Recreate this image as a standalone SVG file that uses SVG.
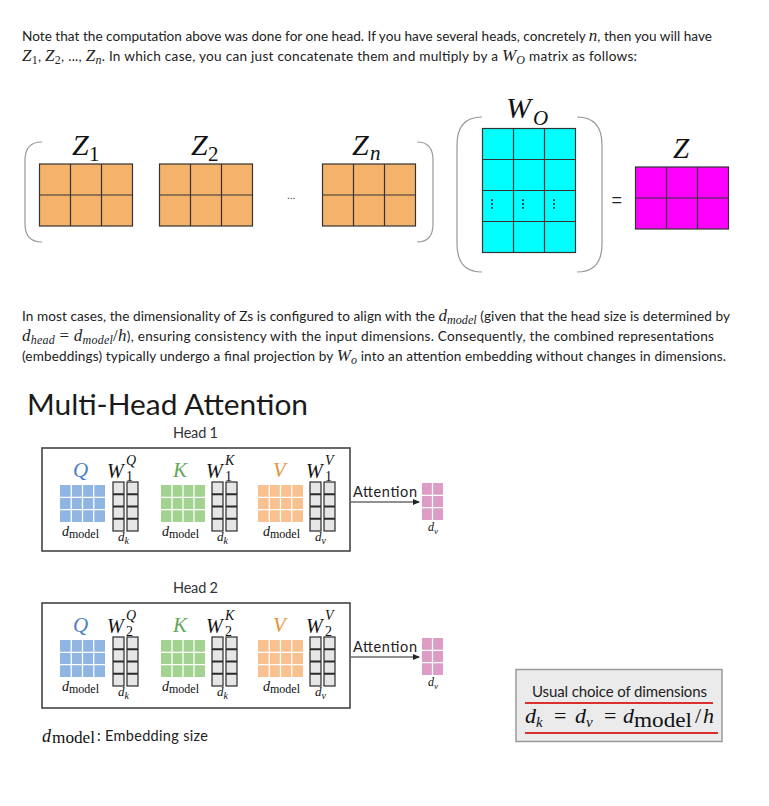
<svg xmlns="http://www.w3.org/2000/svg" width="769" height="806" viewBox="0 0 769 806">
<defs>
<style>
.t{font-family:Lato,"Noto Sans",sans-serif;font-size:13.6px;fill:#222}
.mi{font-family:"Liberation Serif",serif;font-style:italic;font-size:17px}
.mu{font-family:"Liberation Serif",serif;font-style:normal;font-size:17px}
.ms{font-family:"Liberation Serif",serif;font-style:italic;font-size:12px}
.rs{font-family:"Liberation Serif",serif;font-style:normal;font-size:12px}
.m{font-family:"Liberation Serif",serif;font-style:italic;fill:#111}
.r{font-family:"Liberation Serif",serif;fill:#111}
.zc{fill:#F5B26B;stroke:#333;stroke-width:1.2}
.gl{fill:none;stroke:#333;stroke-width:1.2}
.par{fill:none;stroke:#999;stroke-width:1.2}
.box{fill:#fff;stroke:#444;stroke-width:1.6}
.wc{fill:#e6e6e6;stroke:#2a2a2a;stroke-width:1.2}
.wd{fill:none;stroke:#2a2a2a;stroke-width:1.8}
.gap{fill:none;stroke:#fff;stroke-width:1.3}
.qb{fill:#8fb5e3}
.kg{fill:#a3d391}
.vo{fill:#f8c18f}
.pk{fill:#dc9cc6}
.arr{fill:none;stroke:#222;stroke-width:1.2;marker-end:url(#ah)}
</style>
<marker id="ah" markerWidth="6" markerHeight="6" refX="5" refY="3" orient="auto"><path d="M0,0.5 L6,3 L0,5.5z" fill="#222"/></marker>
</defs>
<rect width="769" height="806" fill="#fff"/>

<!-- paragraph 1 -->
<g id="para1">
<text class="t" x="22" y="40.7" textLength="690" lengthAdjust="spacing">Note that the computation above was done for one head. If you have several heads, concretely <tspan class="mi">n</tspan>, then you will have</text>
<text class="t" x="22" y="61" textLength="615" lengthAdjust="spacing"><tspan class="mi">Z</tspan><tspan class="rs" dy="3">1</tspan><tspan dy="-3">,  </tspan><tspan class="mi">Z</tspan><tspan class="rs" dy="3">2</tspan><tspan dy="-3">,  ...,  </tspan><tspan class="mi">Z</tspan><tspan class="ms" dy="3">n</tspan><tspan dy="-3">. In which case, you can just concatenate them and multiply by a </tspan><tspan class="mi">W</tspan><tspan class="ms" dy="3">O</tspan><tspan dy="-3"> matrix as follows:</tspan></text>
</g>

<!-- concatenation figure -->
<g id="paren-left"><path class="par" d="M42,142 Q25,142 25,160 L25,224 Q25,242 42,242"/></g>
<g id="paren-right"><path class="par" d="M417,142 Q433,142 433,160 L433,224 Q433,242 417,242"/></g>
<g id="Z1">
<rect class="zc" x="39.5" y="164" width="93" height="62"/>
<path class="gl" d="M70.5,164V226M101.5,164V226M39.5,195H132.5"/>
<text class="m" x="72" y="155" font-size="30">Z</text><text class="r" x="89" y="161" font-size="21">1</text>
</g>
<g id="Z2">
<rect class="zc" x="159.5" y="164" width="93" height="62"/>
<path class="gl" d="M190.5,164V226M221.5,164V226M159.5,195H252.5"/>
<text class="m" x="191" y="155" font-size="30">Z</text><text class="r" x="208" y="161" font-size="21">2</text>
</g>
<g id="dots"><text x="287" y="199" font-family="Liberation Sans,sans-serif" font-size="10" fill="#222">...</text></g>
<g id="Zn">
<rect class="zc" x="322.5" y="164" width="93" height="62"/>
<path class="gl" d="M353.5,164V226M384.5,164V226M322.5,195H415.5"/>
<text class="m" x="352" y="155" font-size="30">Z</text><text class="m" x="370" y="160" font-size="21">n</text>
</g>
<g id="WO-paren-left"><path class="par" d="M482,117 Q457,117 457,145 L457,244 Q457,272 482,272"/></g>
<g id="WO-paren-right"><path class="par" d="M577,117 Q602,117 602,145 L602,244 Q602,272 577,272"/></g>
<g id="WO">
<rect x="482.5" y="128.5" width="93" height="124" fill="#00ffff" stroke="#333" stroke-width="1.2"/>
<path class="gl" d="M513.5,128.5V252.5M544.5,128.5V252.5M482.5,159.5H575.5M482.5,190.5H575.5M482.5,221.5H575.5"/>
<g fill="#111"><circle cx="492" cy="200" r="0.9"/><circle cx="492" cy="204" r="0.9"/><circle cx="492" cy="208" r="0.9"/>
<circle cx="523" cy="200" r="0.9"/><circle cx="523" cy="204" r="0.9"/><circle cx="523" cy="208" r="0.9"/>
<circle cx="554" cy="200" r="0.9"/><circle cx="554" cy="204" r="0.9"/><circle cx="554" cy="208" r="0.9"/></g>
<text class="m" x="506" y="118" font-size="30">W</text><text class="m" x="533" y="125" font-size="21">O</text>
</g>
<g id="equals"><text x="611.5" y="206" font-family="Liberation Sans,sans-serif" font-size="18" fill="#222">=</text></g>
<g id="Z">
<rect x="635.5" y="167" width="93" height="62" fill="#ff00ff" stroke="#333" stroke-width="1.2"/>
<path class="gl" d="M666.5,167V229M697.5,167V229M635.5,198H728.5"/>
<text class="m" x="673" y="158" font-size="29">Z</text>
</g>

<!-- paragraph 2 -->
<g id="para2">
<text class="t" x="22" y="320.5" textLength="708" lengthAdjust="spacing">In most cases, the dimensionality of Zs is configured to align with the <tspan class="mi">d</tspan><tspan class="ms" dy="3">model</tspan><tspan dy="-3"> (given that the head size is determined by</tspan></text>
<text class="t" x="22" y="340.5" textLength="692" lengthAdjust="spacing"><tspan class="mi">d</tspan><tspan class="ms" dy="3">head</tspan><tspan class="mu" dy="-3"> = </tspan><tspan class="mi">d</tspan><tspan class="ms" dy="3">model</tspan><tspan class="mu" dy="-3">/</tspan><tspan class="mi">h</tspan><tspan>), ensuring consistency with the input dimensions. Consequently, the combined representations</tspan></text>
<text class="t" x="22" y="360.5" textLength="704" lengthAdjust="spacing">(embeddings) typically undergo a final projection by <tspan class="mi">W</tspan><tspan class="ms" dy="3">o</tspan><tspan dy="-3"> into an attention embedding without changes in dimensions.</tspan></text>
</g>

<g id="title"><text x="27" y="415" font-family="Lato,sans-serif" font-size="28" fill="#1a1a1a" textLength="281" lengthAdjust="spacingAndGlyphs">Multi-Head Attention</text></g>

<!-- Head 1 -->
<g id="head1">
<text x="173" y="438" font-family="Lato,sans-serif" font-size="14.5" fill="#333" textLength="45">Head 1</text>
<rect class="box" x="42" y="448" width="308" height="103"/>
<text class="m" x="73" y="477" font-size="21" style="fill:#4a80c4">Q</text>
<text class="m" x="107" y="478" font-size="20">W</text><text class="m" x="126" y="465" font-size="14">Q</text><text class="r" x="126" y="481" font-size="14">1</text>
<rect class="qb" x="60" y="485" width="45" height="37"/>
<path class="gap" d="M71.25,485V522M82.5,485V522M93.75,485V522M60,497.3H105M60,509.7H105"/>
<rect class="wc" x="113" y="482" width="11" height="49"/><rect class="wc" x="127" y="482" width="11" height="49"/>
<path class="wd" d="M113,494.25H124M113,506.5H124M113,518.75H124M127,494.25H138M127,506.5H138M127,518.75H138"/>
<text class="m" x="62" y="536" font-size="14">d</text><text class="r" x="69" y="537.5" font-size="12">model</text>
<text class="m" x="118" y="541" font-size="13">d</text><text class="m" x="124.5" y="544" font-size="10">k</text>

<text class="m" x="173" y="477" font-size="21" style="fill:#64a85a">K</text>
<text class="m" x="206" y="478" font-size="20">W</text><text class="m" x="225" y="465" font-size="14">K</text><text class="r" x="225" y="481" font-size="14">1</text>
<rect class="kg" x="161" y="485" width="44" height="37"/>
<path class="gap" d="M172,485V522M183,485V522M194,485V522M161,497.3H205M161,509.7H205"/>
<rect class="wc" x="212" y="482" width="11" height="49"/><rect class="wc" x="226" y="482" width="11" height="49"/>
<path class="wd" d="M212,494.25H223M212,506.5H223M212,518.75H223M226,494.25H237M226,506.5H237M226,518.75H237"/>
<text class="m" x="162" y="536" font-size="14">d</text><text class="r" x="169" y="537.5" font-size="12">model</text>
<text class="m" x="217" y="541" font-size="13">d</text><text class="m" x="223.5" y="544" font-size="10">k</text>

<text class="m" x="273" y="477" font-size="21" style="fill:#e6943a">V</text>
<text class="m" x="306" y="478" font-size="20">W</text><text class="m" x="325" y="465" font-size="14">V</text><text class="r" x="325" y="481" font-size="14">1</text>
<rect class="vo" x="258" y="485" width="45" height="37"/>
<path class="gap" d="M269.25,485V522M280.5,485V522M291.75,485V522M258,497.3H303M258,509.7H303"/>
<rect class="wc" x="310" y="482" width="11" height="49"/><rect class="wc" x="324" y="482" width="11" height="49"/>
<path class="wd" d="M310,494.25H321M310,506.5H321M310,518.75H321M324,494.25H335M324,506.5H335M324,518.75H335"/>
<text class="m" x="263" y="536" font-size="14">d</text><text class="r" x="270" y="537.5" font-size="12">model</text>
<text class="m" x="315" y="541" font-size="13">d</text><text class="m" x="321.5" y="544" font-size="10">v</text>
</g>
<g id="attn1">
<text x="353" y="497" font-family="Lato,sans-serif" font-size="14.5" fill="#222" textLength="64">Attention</text>
<rect class="pk" x="422" y="483" width="21" height="37"/>
<path class="gap" d="M432.5,483V520M422,495.3H443M422,507.7H443"/>
<text class="m" x="428" y="531" font-size="12">d</text><text class="m" x="434" y="534" font-size="9">v</text>
</g>

<!-- Head 2 -->
<g id="head2">
<text x="173" y="593" font-family="Lato,sans-serif" font-size="14.5" fill="#333" textLength="45">Head 2</text>
<rect class="box" x="42" y="603" width="308" height="105"/>
<text class="m" x="73" y="632" font-size="21" style="fill:#4a80c4">Q</text>
<text class="m" x="107" y="633" font-size="20">W</text><text class="m" x="126" y="620" font-size="14">Q</text><text class="r" x="126" y="636" font-size="14">2</text>
<rect class="qb" x="60" y="640" width="45" height="37"/>
<path class="gap" d="M71.25,640V677M82.5,640V677M93.75,640V677M60,652.3H105M60,664.7H105"/>
<rect class="wc" x="113" y="637" width="11" height="49"/><rect class="wc" x="127" y="637" width="11" height="49"/>
<path class="wd" d="M113,649.25H124M113,661.5H124M113,673.75H124M127,649.25H138M127,661.5H138M127,673.75H138"/>
<text class="m" x="62" y="691" font-size="14">d</text><text class="r" x="69" y="692.5" font-size="12">model</text>
<text class="m" x="118" y="696" font-size="13">d</text><text class="m" x="124.5" y="699" font-size="10">k</text>

<text class="m" x="173" y="632" font-size="21" style="fill:#64a85a">K</text>
<text class="m" x="206" y="633" font-size="20">W</text><text class="m" x="225" y="620" font-size="14">K</text><text class="r" x="225" y="636" font-size="14">2</text>
<rect class="kg" x="161" y="640" width="44" height="37"/>
<path class="gap" d="M172,640V677M183,640V677M194,640V677M161,652.3H205M161,664.7H205"/>
<rect class="wc" x="212" y="637" width="11" height="49"/><rect class="wc" x="226" y="637" width="11" height="49"/>
<path class="wd" d="M212,649.25H223M212,661.5H223M212,673.75H223M226,649.25H237M226,661.5H237M226,673.75H237"/>
<text class="m" x="162" y="691" font-size="14">d</text><text class="r" x="169" y="692.5" font-size="12">model</text>
<text class="m" x="217" y="696" font-size="13">d</text><text class="m" x="223.5" y="699" font-size="10">k</text>

<text class="m" x="273" y="632" font-size="21" style="fill:#e6943a">V</text>
<text class="m" x="306" y="633" font-size="20">W</text><text class="m" x="325" y="620" font-size="14">V</text><text class="r" x="325" y="636" font-size="14">2</text>
<rect class="vo" x="258" y="640" width="45" height="37"/>
<path class="gap" d="M269.25,640V677M280.5,640V677M291.75,640V677M258,652.3H303M258,664.7H303"/>
<rect class="wc" x="310" y="637" width="11" height="49"/><rect class="wc" x="324" y="637" width="11" height="49"/>
<path class="wd" d="M310,649.25H321M310,661.5H321M310,673.75H321M324,649.25H335M324,661.5H335M324,673.75H335"/>
<text class="m" x="263" y="691" font-size="14">d</text><text class="r" x="270" y="692.5" font-size="12">model</text>
<text class="m" x="315" y="696" font-size="13">d</text><text class="m" x="321.5" y="699" font-size="10">v</text>
</g>
<g id="attn2">
<text x="353" y="652" font-family="Lato,sans-serif" font-size="14.5" fill="#222" textLength="64">Attention</text>
<rect class="pk" x="422" y="638" width="21" height="37"/>
<path class="gap" d="M432.5,638V675M422,650.3H443M422,662.7H443"/>
<text class="m" x="428" y="686" font-size="12">d</text><text class="m" x="434" y="689" font-size="9">v</text>
</g>

<g id="connectors">
<path class="arr" d="M351,502H419"/>
<path class="arr" d="M351,657H419"/>
</g>

<g id="usual-choice">
<rect x="516" y="669.5" width="206" height="72" fill="#ebebeb" stroke="#9a9a9a" stroke-width="1.5"/>
<text x="532" y="697" font-family="Lato,sans-serif" font-size="15" fill="#222" textLength="175">Usual choice of dimensions</text>
<path d="M525,703H713M525,733H718" stroke="#d9302c" stroke-width="2" fill="none"/>
<text class="m" x="525" y="723" font-size="22">d</text><text class="m" x="536" y="727" font-size="15">k</text>
<text class="r" x="554" y="723" font-size="22">=</text>
<text class="m" x="575" y="723" font-size="22">d</text><text class="m" x="586" y="727" font-size="15">v</text>
<text class="r" x="604" y="723" font-size="22">=</text>
<text class="m" x="623" y="723" font-size="22">d</text><text class="r" x="634" y="726.5" font-size="21" textLength="58" lengthAdjust="spacingAndGlyphs">model</text>
<text class="r" x="695" y="723" font-size="22">/</text><text class="m" x="703" y="723" font-size="22">h</text>
</g>

<g id="legend">
<text class="m" x="42" y="741.5" font-size="18">d</text><text class="r" x="52" y="742.5" font-size="16" textLength="43" lengthAdjust="spacingAndGlyphs">model</text>
<text x="97" y="741" font-family="Lato,sans-serif" font-size="14.5" fill="#222" textLength="111">: Embedding size</text>
</g>
</svg>
